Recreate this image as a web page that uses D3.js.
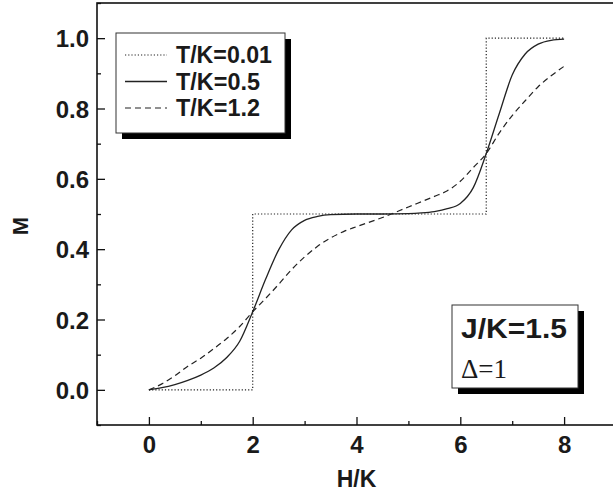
<!DOCTYPE html>
<html>
<head>
<meta charset="utf-8">
<script src="https://cdn.jsdelivr.net/npm/d3@7"></script>
<style>
  body { margin: 0; background: #fff; }
  text { font-family: "Liberation Sans", Arial, Helvetica, sans-serif; }
</style>
</head>
<body>
<svg id="chart" width="613" height="500"></svg>
<script>
// ---- data ----
var hT001 = [0, 2, 2, 6.5, 6.5, 8];
var mT001 = [0, 0, 0.5, 0.5, 1, 1];

var hT05 = [0, 0.25, 0.5, 0.75, 1.0, 1.25, 1.5, 1.75, 2.0, 2.25, 2.5, 2.75, 3.0, 3.25, 3.5, 4.0, 4.5, 5.0, 5.25, 5.5, 5.75, 6.0, 6.25, 6.5, 6.75, 7.0, 7.25, 7.5, 7.75, 8.0];
var mT05 = [0, 0.006, 0.015, 0.027, 0.042, 0.062, 0.092, 0.138, 0.222, 0.315, 0.398, 0.455, 0.482, 0.493, 0.498, 0.5, 0.5, 0.501, 0.503, 0.507, 0.515, 0.53, 0.575, 0.672, 0.785, 0.895, 0.955, 0.983, 0.994, 0.997];

var hT12 = [0, 0.25, 0.5, 0.75, 1.0, 1.25, 1.5, 1.75, 2.0, 2.25, 2.5, 2.75, 3.0, 3.25, 3.5, 3.75, 4.0, 4.5, 5.0, 5.5, 5.75, 6.0, 6.25, 6.5, 6.75, 7.0, 7.25, 7.5, 7.75, 8.0];
var mT12 = [0, 0.017, 0.04, 0.067, 0.09, 0.117, 0.146, 0.18, 0.222, 0.26, 0.3, 0.342, 0.378, 0.408, 0.432, 0.45, 0.464, 0.49, 0.52, 0.55, 0.566, 0.593, 0.632, 0.672, 0.73, 0.78, 0.822, 0.862, 0.893, 0.92];

var seriesNames = ["T/K=0.01", "T/K=0.5", "T/K=1.2"];
var xTicks = [0, 2, 4, 6, 8];
var yTicks = [0.0, 0.2, 0.4, 0.6, 0.8, 1.0];

/*************** settings *****************/
var svg = d3.select("#chart"),
    margin = {top: 3, right: -3, bottom: 75, left: 97},
    width = 613 - margin.left - margin.right,
    height = 500 - margin.top - margin.bottom;

var x = d3.scaleLinear().domain([-1, 9]).range([0, width]);
var y = d3.scaleLinear().domain([-0.1, 1.1]).range([height, 0]);

var g = svg.append("g")
    .attr("transform", "translate(" + margin.left + "," + margin.top + ")");

/*************** axes *****************/
// minor ticks first, then major ones with labels
g.append("g")
    .attr("transform", "translate(0," + height + ")")
    .call(d3.axisBottom(x).tickValues([-1, 1, 3, 5, 7, 9]).tickSize(-4).tickFormat(""))
    .call(function(s) { s.select(".domain").remove(); });

g.append("g")
    .attr("class", "xaxis")
    .attr("transform", "translate(0," + height + ")")
    .call(d3.axisBottom(x).tickValues(xTicks).tickSize(-8).tickPadding(11).tickFormat(d3.format("d")))
    .call(function(s) { s.select(".domain").remove(); });

g.append("g")
    .call(d3.axisLeft(y).tickValues([-0.1, 0.1, 0.3, 0.5, 0.7, 0.9, 1.1]).tickSize(-4).tickFormat(""))
    .call(function(s) { s.select(".domain").remove(); });

g.append("g")
    .attr("class", "yaxis")
    .call(d3.axisLeft(y).tickValues(yTicks).tickSize(-8).tickPadding(8).tickFormat(d3.format(".1f")))
    .call(function(s) { s.select(".domain").remove(); });

g.selectAll(".tick line").attr("stroke", "#111").attr("stroke-width", 1.3);
g.selectAll(".xaxis text, .yaxis text")
    .attr("fill", "#1a1a1a")
    .style("font-size", "24px")
    .style("font-weight", "bold");
g.selectAll(".xaxis text").attr("dy", "0.72em");
g.selectAll(".yaxis text").attr("dy", "0.36em");

// frame
g.append("rect")
    .attr("width", width).attr("height", height)
    .attr("fill", "none").attr("stroke", "#111").attr("stroke-width", 1.6);

// axis titles
svg.append("text")
    .attr("x", margin.left + x(4)).attr("y", 487)
    .attr("text-anchor", "middle")
    .style("font-size", "23px").style("font-weight", "bold").attr("fill", "#1a1a1a")
    .text("H/K");

svg.append("text")
    .attr("transform", "translate(28,226) rotate(-90)")
    .attr("text-anchor", "middle")
    .style("font-size", "22px").style("font-weight", "bold").attr("fill", "#1a1a1a")
    .text("M");

/*************** curves *****************/
var series = [
  {name: seriesNames[0], h: hT001, m: mT001, dash: "1.2,2", curve: d3.curveLinear},
  {name: seriesNames[1], h: hT05, m: mT05, dash: null, curve: d3.curveMonotoneX},
  {name: seriesNames[2], h: hT12, m: mT12, dash: "6,4", curve: d3.curveMonotoneX}
];

series.forEach(function(s) {
  var pts = s.h.map(function(h, i) { return [h, s.m[i]]; });
  var line = d3.line()
      .x(function(d) { return x(d[0]); })
      .y(function(d) { return y(d[1]); })
      .curve(s.curve);
  g.append("path")
      .datum(pts)
      .attr("d", line)
      .attr("fill", "none")
      .attr("stroke", "#222")
      .attr("stroke-width", s.dash ? 1.2 : 1.3)
      .attr("stroke-dasharray", s.dash);
});

/*************** legend *****************/
var leg = svg.append("g").attr("transform", "translate(116,33)");
leg.append("rect").attr("x", 6).attr("y", 6).attr("width", 169).attr("height", 100).attr("fill", "#000");
leg.append("rect").attr("width", 169).attr("height", 100).attr("fill", "#fff").attr("stroke", "#333").attr("stroke-width", 1);

var legWidths = [96, 84, 84];
series.forEach(function(s, i) {
  var yy = 22 + i * 26.5;
  leg.append("line")
      .attr("x1", 9).attr("x2", 51).attr("y1", yy).attr("y2", yy)
      .attr("stroke", "#222").attr("stroke-width", s.dash ? 1.2 : 1.3)
      .attr("stroke-dasharray", s.dash);
  leg.append("text")
      .attr("x", 60).attr("y", yy).attr("dy", "0.36em")
      .attr("textLength", legWidths[i]).attr("lengthAdjust", "spacingAndGlyphs")
      .style("font-size", "23px").style("font-weight", "bold").attr("fill", "#1a1a1a")
      .text(s.name);
});

/*************** annotation box *****************/
var ann = svg.append("g").attr("transform", "translate(452,305)");
ann.append("rect").attr("x", 6).attr("y", 6).attr("width", 126).attr("height", 83).attr("fill", "#000");
ann.append("rect").attr("width", 126).attr("height", 83).attr("fill", "#fff").attr("stroke", "#333").attr("stroke-width", 1);
ann.append("text")
    .attr("x", 9).attr("y", 33)
    .attr("textLength", 106).attr("lengthAdjust", "spacingAndGlyphs")
    .style("font-size", "27px").style("font-weight", "bold").attr("fill", "#1a1a1a")
    .text("J/K=1.5");
ann.append("text")
    .attr("x", 9).attr("y", 73)
    .style("font-family", "'Liberation Serif', 'Times New Roman', serif")
    .style("font-size", "27px").attr("fill", "#1a1a1a")
    .text("Δ=1");
</script>
</body>
</html>
